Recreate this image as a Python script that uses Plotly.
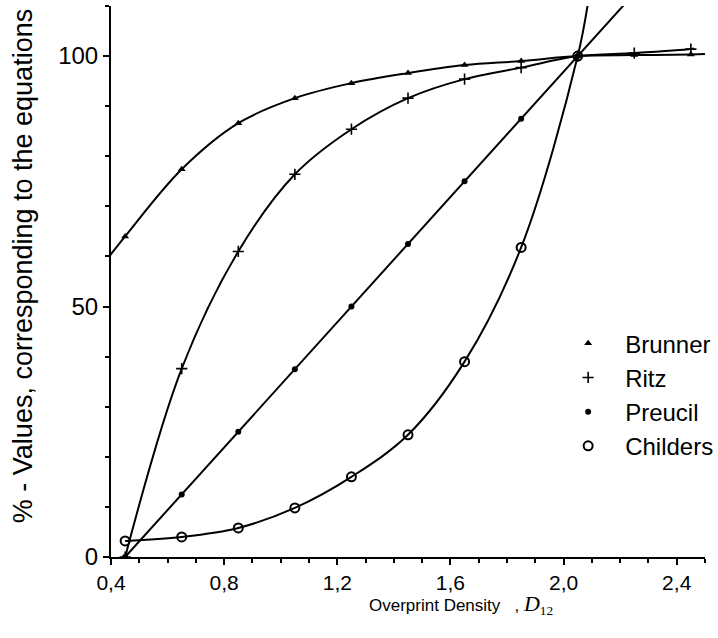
import plotly.graph_objects as go

# ---- data ----
density = [0.45, 0.65, 0.85, 1.05, 1.25, 1.45, 1.65, 1.85, 2.05, 2.25, 2.45]
brunner = [64.0, 77.4, 86.6, 91.6, 94.6, 96.6, 98.2, 99.0, 100.0, 100.2, 100.3]
ritz = [0.0, 37.6, 61.0, 76.4, 85.4, 91.6, 95.4, 97.7, 100.0, 100.6, 101.4]

density_short = [0.45, 0.65, 0.85, 1.05, 1.25, 1.45, 1.65, 1.85, 2.05]
preucil = [0.0, 12.5, 25.0, 37.5, 50.0, 62.5, 75.0, 87.5, 100.0]
childers = [3.2, 4.0, 5.8, 9.8, 16.0, 24.4, 39.0, 61.8, 100.0]

# curve continuations beyond the measured points (drawn lines only)
brunner_start_x, brunner_start_y = [0.35], [56.8]
brunner_end_x, brunner_end_y = [2.50], [100.4]
ritz_end_x, ritz_end_y = [2.46], [101.5]
preucil_end_x, preucil_end_y = [2.25], [112.5]
childers_end_x, childers_end_y = [2.09], [112.0]

x_tickvals = [0.4, 0.8, 1.2, 1.6, 2.0, 2.4]
x_ticktext = ["0,4", "0,8", "1,2", "1,6", "2,0", "2,4"]
y_tickvals = [0, 50, 100]
y_ticktext = ["0", "50", "100"]

SANS = "Liberation Sans, Arial, Helvetica, sans-serif"
LINE = dict(color="black", width=2, shape="spline", smoothing=1.0)

fig = go.Figure()

# lines
fig.add_trace(go.Scatter(x=brunner_start_x + density + brunner_end_x,
                         y=brunner_start_y + brunner + brunner_end_y,
                         mode="lines", line=LINE, showlegend=False, hoverinfo="skip"))
fig.add_trace(go.Scatter(x=density + ritz_end_x, y=ritz + ritz_end_y,
                         mode="lines", line=LINE, showlegend=False, hoverinfo="skip"))
fig.add_trace(go.Scatter(x=density_short + preucil_end_x, y=preucil + preucil_end_y,
                         mode="lines", line=dict(color="black", width=2),
                         showlegend=False, hoverinfo="skip"))
fig.add_trace(go.Scatter(x=density_short + childers_end_x, y=childers + childers_end_y,
                         mode="lines", line=LINE, showlegend=False, hoverinfo="skip"))

# markers
fig.add_trace(go.Scatter(x=density, y=brunner, mode="markers", name="Brunner",
                         marker=dict(symbol="triangle-up", size=7, color="black")))
fig.add_trace(go.Scatter(x=density, y=ritz, mode="markers", name="Ritz",
                         marker=dict(symbol="cross-thin", size=8, color="black",
                                     line=dict(color="black", width=1.6))))
fig.add_trace(go.Scatter(x=density_short, y=preucil, mode="markers", name="Preucil",
                         marker=dict(symbol="circle", size=6, color="black")))
fig.add_trace(go.Scatter(x=density_short, y=childers, mode="markers", name="Childers",
                         marker=dict(symbol="circle-open", size=9, color="black",
                                     line=dict(color="black", width=2))))

fig.update_xaxes(range=[0.4, 2.5], tickvals=x_tickvals, ticktext=x_ticktext,
                 showline=True, linecolor="black", linewidth=2, mirror=False,
                 ticks="outside", ticklen=6, tickwidth=2, tickcolor="black",
                 minor=dict(dtick=0.1, tick0=0.4, ticks="outside", ticklen=4,
                            tickwidth=1.5, tickcolor="black"),
                 showgrid=False, zeroline=False, automargin=False,
                 tickfont=dict(family=SANS, size=21, color="black"))
fig.update_yaxes(range=[0, 110], tickvals=y_tickvals, ticktext=y_ticktext,
                 showline=True, linecolor="black", linewidth=2,
                 ticks="outside", ticklen=6, tickwidth=2, tickcolor="black",
                 minor=dict(dtick=10, tick0=0, ticks="outside", ticklen=4,
                            tickwidth=1.5, tickcolor="black"),
                 showgrid=False, zeroline=False, automargin=False,
                 tickfont=dict(family=SANS, size=24, color="black"))

fig.add_annotation(text="% - Values, corresponding to the equations",
                   xref="paper", yref="paper", x=-0.148, y=0.528,
                   xanchor="center", yanchor="middle",
                   textangle=-90, showarrow=False,
                   font=dict(family=SANS, size=27, color="black"))
fig.add_annotation(text="Overprint Density&nbsp;&nbsp;&nbsp;, "
                        "<span style='font-family:Liberation Serif;font-size:22px'><i>D</i>"
                        "<span style='font-size:19px'><sub>12</sub></span></span>",
                   xref="paper", yref="paper", x=0.59, y=-0.087,
                   xanchor="center", yanchor="middle", showarrow=False,
                   font=dict(family=SANS, size=17, color="black"))

fig.update_layout(
    width=718, height=638,
    margin=dict(l=111, r=13, t=6, b=81, autoexpand=False),
    paper_bgcolor="white", plot_bgcolor="white",
    showlegend=True,
    legend=dict(x=0.741, y=0.428, xanchor="left", yanchor="top",
                bgcolor="rgba(0,0,0,0)", borderwidth=0,
                font=dict(family=SANS, size=24, color="black"),
                itemwidth=64),
)

fig.write_html("out.html", config={"displayModeBar": False},
               post_script="document.body.style.margin='0px';")
